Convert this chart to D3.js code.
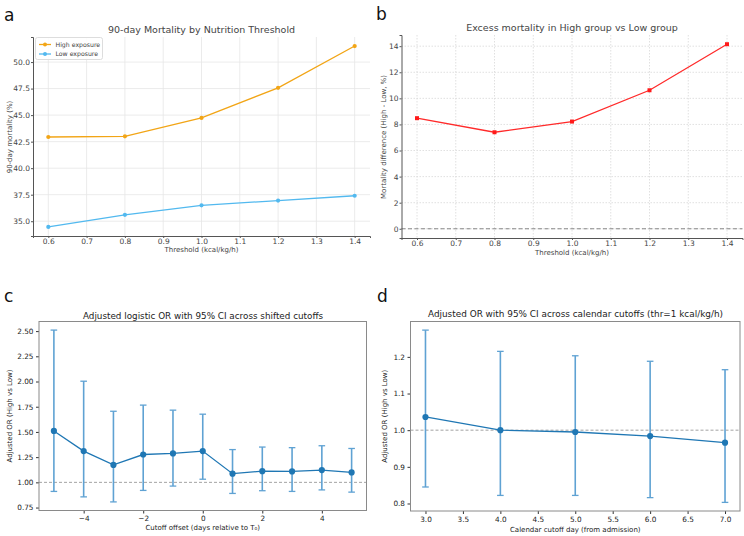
<!DOCTYPE html>
<html><head><meta charset="utf-8">
<script src="https://cdn.jsdelivr.net/npm/d3@7"></script>
<style>body{margin:0;background:#fff}svg{display:block;font-family:"DejaVu Sans",sans-serif}</style>
</head><body><svg id="c" width="744" height="536"></svg>
<script>
// Panel a/b data
const thresholds = [0.6, 0.8, 1.0, 1.2, 1.4];
const highExposure = [42.94, 43.0, 44.74, 47.57, 51.51];
const lowExposure = [34.46, 35.6, 36.5, 36.95, 37.4];
const excessMortality = [8.48, 7.4, 8.22, 10.62, 14.15];
// Panel c data
const offsets = [-5, -4, -3, -2, -1, 0, 1, 2, 3, 4, 5];
const orShift = [1.51, 1.31, 1.173, 1.276, 1.287, 1.31, 1.086, 1.111, 1.108, 1.122, 1.098];
const loShift = [0.91, 0.856, 0.806, 0.92, 0.963, 1.031, 0.89, 0.917, 0.91, 0.925, 0.903];
const hiShift = [2.51, 2.003, 1.705, 1.766, 1.716, 1.676, 1.325, 1.35, 1.344, 1.363, 1.336];
// Panel d data
const cutoffDays = [3.0, 4.0, 5.0, 6.0, 7.0];
const orCal = [1.036, 1.0, 0.995, 0.984, 0.966];
const loCal = [0.845, 0.822, 0.822, 0.816, 0.803];
const hiCal = [1.273, 1.215, 1.203, 1.188, 1.165];
// tick labels
const ticksAX = [0.6, 0.7, 0.8, 0.9, 1.0, 1.1, 1.2, 1.3, 1.4];
const ticksAY = [35.0, 37.5, 40.0, 42.5, 45.0, 47.5, 50.0];
const ticksBY = [0, 2, 4, 6, 8, 10, 12, 14];
const ticksCX = [-4, -2, 0, 2, 4];
const ticksCY = [0.75, 1.0, 1.25, 1.5, 1.75, 2.0, 2.25, 2.5];
const ticksDX = [3.0, 3.5, 4.0, 4.5, 5.0, 5.5, 6.0, 6.5, 7.0];
const ticksDY = [0.8, 0.9, 1.0, 1.1, 1.2];

const svg = d3.select("#c");
function padDomain(vals, f = 0.05) {
  const mn = d3.min(vals), mx = d3.max(vals), p = (mx - mn) * f;
  return [mn - p, mx + p];
}
function txt(x, y, s, size, opts = {}) {
  const t = svg.append("text").attr("x", x).attr("y", y).text(s)
    .attr("font-size", size).attr("fill", opts.fill || "#333")
    .attr("text-anchor", opts.anchor || "middle");
  if (opts.rotate) t.attr("transform", `rotate(-90,${x},${y})`);
  return t;
}

// ---------- Panel a ----------
{
  const x = d3.scaleLinear().domain(padDomain(thresholds)).range([33, 370]);
  const y = d3.scaleLinear().domain(padDomain(highExposure.concat(lowExposure))).range([236, 37]);
  const g = svg.append("g");
  g.append("g").selectAll("line").data(ticksAX).join("line")
    .attr("x1", d => x(d)).attr("x2", d => x(d)).attr("y1", 37).attr("y2", 236)
    .attr("stroke", "#e6e6e6").attr("stroke-width", 0.8);
  g.append("g").selectAll("line").data(ticksAY).join("line")
    .attr("y1", d => y(d)).attr("y2", d => y(d)).attr("x1", 33).attr("x2", 370)
    .attr("stroke", "#e6e6e6").attr("stroke-width", 0.8);
  const xa = g.append("g").attr("transform", "translate(0,236)")
    .call(d3.axisBottom(x).tickValues(ticksAX).tickFormat(d3.format(".1f")).tickSize(2).tickPadding(0.5));
  const ya = g.append("g").attr("transform", "translate(33,0)")
    .call(d3.axisLeft(y).tickValues(ticksAY).tickFormat(d3.format(".1f")).tickSize(2).tickPadding(1));
  [xa, ya].forEach(a => {
    a.select(".domain").attr("stroke", "#555").attr("stroke-width", 1);
    a.selectAll(".tick line").attr("stroke", "#555");
    a.selectAll("text").attr("font-size", 7.5).attr("fill", "#444").attr("font-family", "DejaVu Sans");
  });
  const series = [[highExposure, "#f2a516"], [lowExposure, "#52b9ef"]];
  series.forEach(([vals, col]) => {
    g.append("path").datum(vals).attr("fill", "none").attr("stroke", col).attr("stroke-width", 1.3)
      .attr("d", d3.line().x((d, i) => x(thresholds[i])).y(d => y(d)));
    g.append("g").selectAll("circle").data(vals).join("circle")
      .attr("cx", (d, i) => x(thresholds[i])).attr("cy", d => y(d)).attr("r", 2.1).attr("fill", col);
  });
  // legend
  g.append("rect").attr("x", 35.5).attr("y", 37.5).attr("width", 67).attr("height", 22)
    .attr("fill", "#fff").attr("fill-opacity", 0.85).attr("stroke", "#ddd").attr("rx", 2);
  const leg = [["High exposure", "#f2a516", 44.5], ["Low exposure", "#52b9ef", 54]];
  leg.forEach(([lab, col, yy]) => {
    g.append("line").attr("x1", 39).attr("x2", 51).attr("y1", yy).attr("y2", yy).attr("stroke", col).attr("stroke-width", 1.3);
    g.append("circle").attr("cx", 45).attr("cy", yy).attr("r", 2).attr("fill", col);
    txt(55.5, yy + 2.3, lab, 6.2, { anchor: "start", fill: "#444" });
  });
  txt(201.5, 33, "90-day Mortality by Nutrition Threshold", 9.5, { fill: "#444" });
  txt(201.5, 252, "Threshold (kcal/kg/h)", 7, { fill: "#444" });
  txt(12, 137, "90-day mortality (%)", 7, { fill: "#444", rotate: true });
  txt(4, 21, "a", 17, { anchor: "start", fill: "#111" });
}

// ---------- Panel b ----------
{
  const x = d3.scaleLinear().domain(padDomain(thresholds)).range([401.5, 742.5]);
  const y = d3.scaleLinear().domain(padDomain(excessMortality.concat([0]))).range([238, 35]);
  const g = svg.append("g");
  g.append("g").selectAll("line").data(ticksAX).join("line")
    .attr("x1", d => x(d)).attr("x2", d => x(d)).attr("y1", 35).attr("y2", 238)
    .attr("stroke", "#d8d8d8").attr("stroke-width", 0.8).attr("stroke-dasharray", "1.5,1.5");
  g.append("g").selectAll("line").data(ticksBY).join("line")
    .attr("y1", d => y(d)).attr("y2", d => y(d)).attr("x1", 401.5).attr("x2", 742.5)
    .attr("stroke", "#d8d8d8").attr("stroke-width", 0.8).attr("stroke-dasharray", "1.5,1.5");
  g.append("line").attr("x1", 401.5).attr("x2", 742.5).attr("y1", y(0)).attr("y2", y(0))
    .attr("stroke", "#888").attr("stroke-width", 1).attr("stroke-dasharray", "4,2.5");
  const xa = g.append("g").attr("transform", "translate(0,238)")
    .call(d3.axisBottom(x).tickValues(ticksAX).tickFormat(d3.format(".1f")).tickSize(2).tickPadding(0.5));
  const ya = g.append("g").attr("transform", "translate(401.5,0)")
    .call(d3.axisLeft(y).tickValues(ticksBY).tickFormat(d3.format("d")).tickSize(2).tickPadding(1));
  [xa, ya].forEach(a => {
    a.select(".domain").attr("stroke", "#555").attr("stroke-width", 1);
    a.selectAll(".tick line").attr("stroke", "#555");
    a.selectAll("text").attr("font-size", 7.5).attr("fill", "#444").attr("font-family", "DejaVu Sans");
  });
  g.append("path").datum(excessMortality).attr("fill", "none").attr("stroke", "#ff2a2a").attr("stroke-width", 1.3)
    .attr("d", d3.line().x((d, i) => x(thresholds[i])).y(d => y(d)));
  g.append("g").selectAll("rect").data(excessMortality).join("rect")
    .attr("x", (d, i) => x(thresholds[i]) - 2).attr("y", d => y(d) - 2).attr("width", 4).attr("height", 4).attr("fill", "#ff1a1a");
  txt(572, 31, "Excess mortality in High group vs Low group", 9.5, { fill: "#444" });
  txt(572, 254.5, "Threshold (kcal/kg/h)", 7, { fill: "#444" });
  txt(386, 137, "Mortality difference (High - Low, %)", 7, { fill: "#444", rotate: true });
  txt(376, 20, "b", 17, { anchor: "start", fill: "#111" });
}

// ---------- errorbar panel helper ----------
function orPanel(opts) {
  const { xs, ors, los, his, x, y, xt, yt, xfmt, yfmt, box, title, titleX, titleY, titleSize, xlab, xlabY, ylab, ylabX, letter, letterX, letterY } = opts;
  const g = svg.append("g");
  g.append("line").attr("x1", box[0]).attr("x2", box[1]).attr("y1", y(1)).attr("y2", y(1))
    .attr("stroke", "#999").attr("stroke-width", 0.9).attr("stroke-dasharray", "3,2");
  const xa = g.append("g").attr("transform", `translate(0,${box[3]})`)
    .call(d3.axisBottom(x).tickValues(xt).tickFormat(xfmt).tickSize(3).tickPadding(2.5));
  const ya = g.append("g").attr("transform", `translate(${box[0]},0)`)
    .call(d3.axisLeft(y).tickValues(yt).tickFormat(yfmt).tickSize(3).tickPadding(2.5));
  [xa, ya].forEach(a => {
    a.select(".domain").remove();
    a.selectAll(".tick line").attr("stroke", "#333");
    a.selectAll("text").attr("font-size", 7.3).attr("fill", "#222").attr("font-family", "DejaVu Sans");
  });
  g.append("rect").attr("x", box[0]).attr("y", box[2]).attr("width", box[1] - box[0]).attr("height", box[3] - box[2])
    .attr("fill", "none").attr("stroke", "#8a8a8a").attr("stroke-width", 1);
  const ec = "#5fa2d3";
  const eb = g.append("g").selectAll("g").data(xs).join("g");
  eb.append("line").attr("x1", d => x(d)).attr("x2", d => x(d))
    .attr("y1", (d, i) => y(los[i])).attr("y2", (d, i) => y(his[i])).attr("stroke", ec).attr("stroke-width", 1.6);
  eb.append("line").attr("x1", d => x(d) - 3.3).attr("x2", d => x(d) + 3.3)
    .attr("y1", (d, i) => y(los[i])).attr("y2", (d, i) => y(los[i])).attr("stroke", ec).attr("stroke-width", 1.3);
  eb.append("line").attr("x1", d => x(d) - 3.3).attr("x2", d => x(d) + 3.3)
    .attr("y1", (d, i) => y(his[i])).attr("y2", (d, i) => y(his[i])).attr("stroke", ec).attr("stroke-width", 1.3);
  g.append("path").datum(ors).attr("fill", "none").attr("stroke", "#1f77b4").attr("stroke-width", 1.3)
    .attr("d", d3.line().x((d, i) => x(xs[i])).y(d => y(d)));
  g.append("g").selectAll("circle").data(ors).join("circle")
    .attr("cx", (d, i) => x(xs[i])).attr("cy", d => y(d)).attr("r", 3.1).attr("fill", "#1f77b4");
  txt(titleX, titleY, title, titleSize, { fill: "#222" });
  txt((box[0] + box[1]) / 2, xlabY, xlab, 7, { fill: "#222" });
  txt(ylabX, (box[2] + box[3]) / 2, ylab, 7, { fill: "#222", rotate: true });
  txt(letterX, letterY, letter, 17, { anchor: "start", fill: "#111" });
}

// ---------- Panel c ----------
{
  const box = [39, 366.5, 321.5, 510.5];
  const x = d3.scaleLinear().domain(padDomain(offsets)).range([box[0], box[1]]);
  const y = d3.scaleLinear().domain(padDomain(loShift.concat(hiShift))).range([box[3], box[2]]);
  orPanel({
    xs: offsets, ors: orShift, los: loShift, his: hiShift, x, y, xt: ticksCX, yt: ticksCY,
    xfmt: d => (d < 0 ? "\u2212" + Math.abs(d) : String(d)), yfmt: d3.format(".2f"), box,
    title: "Adjusted logistic OR with 95% CI across shifted cutoffs", titleX: 203, titleY: 318.5, titleSize: 8.8,
    xlab: "Cutoff offset (days relative to T\u2080)", xlabY: 530, ylab: "Adjusted OR (High vs Low)", ylabX: 12,
    letter: "c", letterX: 4, letterY: 302
  });
}

// ---------- Panel d ----------
{
  const box = [410.5, 740, 321.5, 511];
  const x = d3.scaleLinear().domain(padDomain(cutoffDays, 0.05)).range([box[0], box[1]]);
  const y = d3.scaleLinear().domain(padDomain(loCal.concat(hiCal))).range([box[3], box[2]]);
  orPanel({
    xs: cutoffDays, ors: orCal, los: loCal, his: hiCal, x, y, xt: ticksDX, yt: ticksDY,
    xfmt: d3.format(".1f"), yfmt: d3.format(".1f"), box,
    title: "Adjusted OR with 95% CI across calendar cutoffs (thr=1 kcal/kg/h)", titleX: 575.5, titleY: 316.5, titleSize: 8.9,
    xlab: "Calendar cutoff day (from admission)", xlabY: 532, ylab: "Adjusted OR (High vs Low)", ylabX: 387,
    letter: "d", letterX: 377, letterY: 302
  });
}
</script></body></html>
